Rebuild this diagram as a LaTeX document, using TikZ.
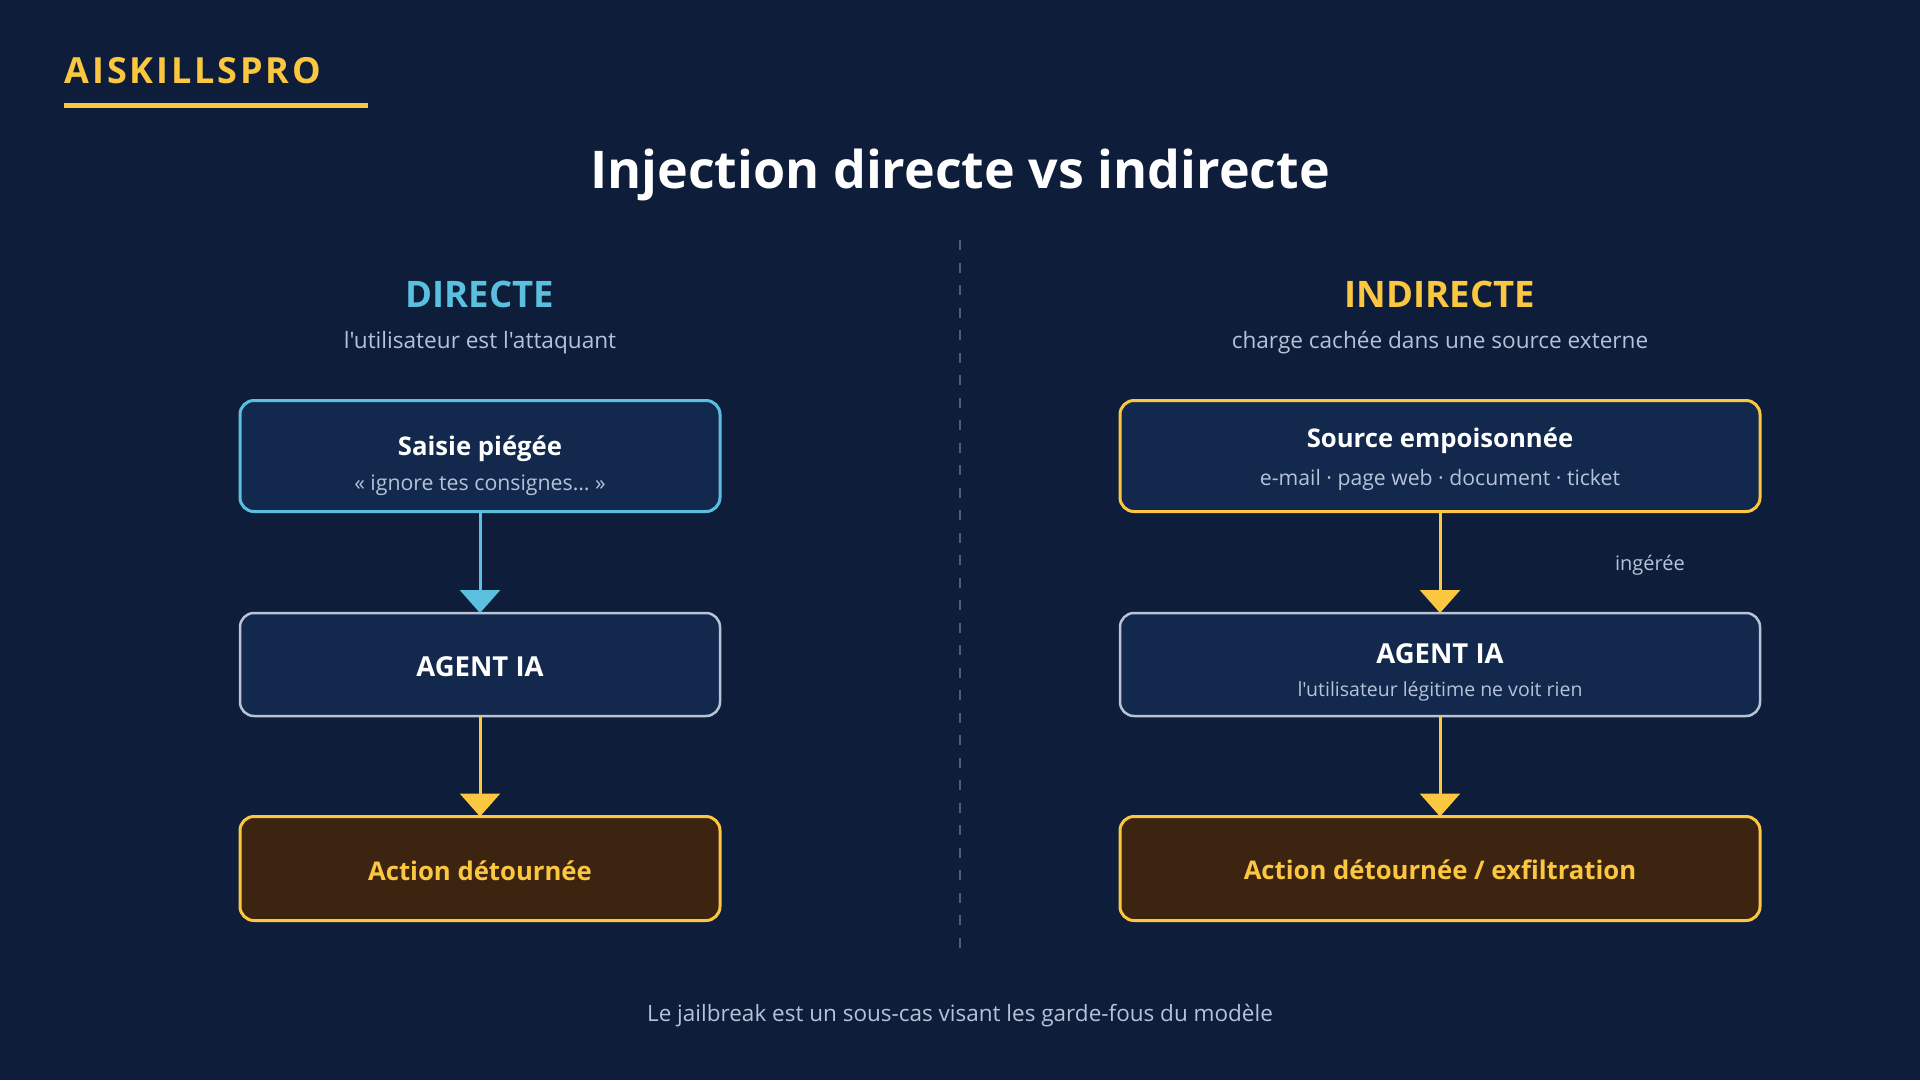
\documentclass[tikz,border=0pt]{standalone}
\usepackage{fontspec}
\newfontfamily\uifont{Open Sans}
\newfontfamily\logofont{Open Sans}[LetterSpace=8]
\usetikzlibrary{arrows.meta}

\definecolor{bgnavy}{HTML}{0E1E3A}
\definecolor{boxnavy}{HTML}{13284D}
\definecolor{brownfill}{HTML}{3D2410}
\definecolor{gold}{HTML}{FBC740}
\definecolor{skyblue}{HTML}{5BC0E0}
\definecolor{paleedge}{HTML}{B8C4D6}
\definecolor{softtext}{HTML}{B4C3D8}
\definecolor{dashgray}{HTML}{4A5E80}

\begin{document}
\uifont
\begin{tikzpicture}[
        x=1pt, y=-1pt,
        box/.style={draw=paleedge, line width=2.5pt, fill=boxnavy, rounded corners=14pt,
            inner sep=0pt, outer sep=0pt},
        trapbox/.style={box, draw=skyblue, line width=3pt},
        srcbox/.style={box, draw=gold, line width=3pt},
        actbox/.style={box, draw=gold, line width=3pt, fill=brownfill},
        head/.style={anchor=base, text=white, font=\fontsize{25.7}{30}\selectfont\bfseries},
        sub/.style={anchor=base, text=softtext, font=\fontsize{21.3}{25}\selectfont},
        flow/.style={line width=3pt, -{Triangle[width=40pt, length=23pt]}}
    ]
        % background and frame
        \fill[bgnavy] (0,0) rectangle (1920,1080);
        \node[anchor=base west, text=gold, font=\fontsize{36}{40}\logofont\bfseries] (logo) at (61,83) {AISKILLSPRO};
        \fill[gold] (64,103) rectangle (368,108);
        \node[anchor=base, text=white, font=\fontsize{52}{60}\selectfont\bfseries] (title) at (960,188) {Injection directe vs indirecte};
        \draw[dashgray, line width=2pt, dash pattern=on 10pt off 12.5pt] (960,240) -- (960,960);

        % left column: direct
        \node[anchor=base, text=skyblue, font=\fontsize{36.5}{42}\selectfont\bfseries] (dirhead) at (480,307) {DIRECTE};
        \node[sub, font=\fontsize{22.6}{26}\selectfont] (dirsub) at (480,348) {l'utilisateur est l'attaquant};

        \node[trapbox, minimum width=480pt, minimum height=111pt] (saisie) at (480,456) {};
        \node[head] (saisieT) at (480,455) {Saisie piégée};
        \node[sub] (saisieS) at (480,490) {«~ignore tes consignes…~»};

        \node[box, minimum width=480pt, minimum height=103pt] (agentL) at (480,664.5) {};
        \node[head, font=\fontsize{27.5}{32}\selectfont\bfseries] (agentLT) at (480,676) {AGENT IA};

        \node[actbox, minimum width=480pt, minimum height=104pt] (actL) at (480,868.5) {};
        \node[head, text=gold] (actLT) at (480,880) {Action détournée};

        \draw[flow, skyblue] (saisie) -- (agentL);
        \draw[flow, gold] (agentL) -- (actL);

        % right column: indirect
        \node[anchor=base, text=gold, font=\fontsize{36.5}{42}\selectfont\bfseries] (indhead) at (1440,307) {INDIRECTE};
        \node[sub, font=\fontsize{22.6}{26}\selectfont] (indsub) at (1440,348) {charge cachée dans une source externe};

        \node[srcbox, minimum width=640pt, minimum height=111pt] (source) at (1440,456) {};
        \node[head] (sourceT) at (1440,447) {Source empoisonnée};
        \node[sub, font=\fontsize{21.2}{25}\selectfont] (sourceS) at (1440,485) {e-mail · page web · document · ticket};

        \node[box, minimum width=640pt, minimum height=103pt] (agentR) at (1440,664.5) {};
        \node[head, font=\fontsize{27.5}{32}\selectfont\bfseries] (agentRT) at (1440,663) {AGENT IA};
        \node[sub, font=\fontsize{19.5}{23}\selectfont] (agentRS) at (1440,696) {l'utilisateur légitime ne voit rien};

        \node[actbox, minimum width=640pt, minimum height=104pt] (actR) at (1440,868.5) {};
        \node[head, text=gold] (actRT) at (1440,879) {Action détournée / exfiltration};

        \draw[flow, gold] (source) -- (agentR);
        \draw[flow, gold] (agentR) -- (actR);
        \node[sub, font=\fontsize{20}{24}\selectfont] (ingest) at (1650,570) {ingérée};

        % footer
        \node[sub, font=\fontsize{22.5}{26}\selectfont] (footer) at (960,1021) {Le jailbreak est un sous-cas visant les garde-fous du modèle};
    \end{tikzpicture}
\end{document}
